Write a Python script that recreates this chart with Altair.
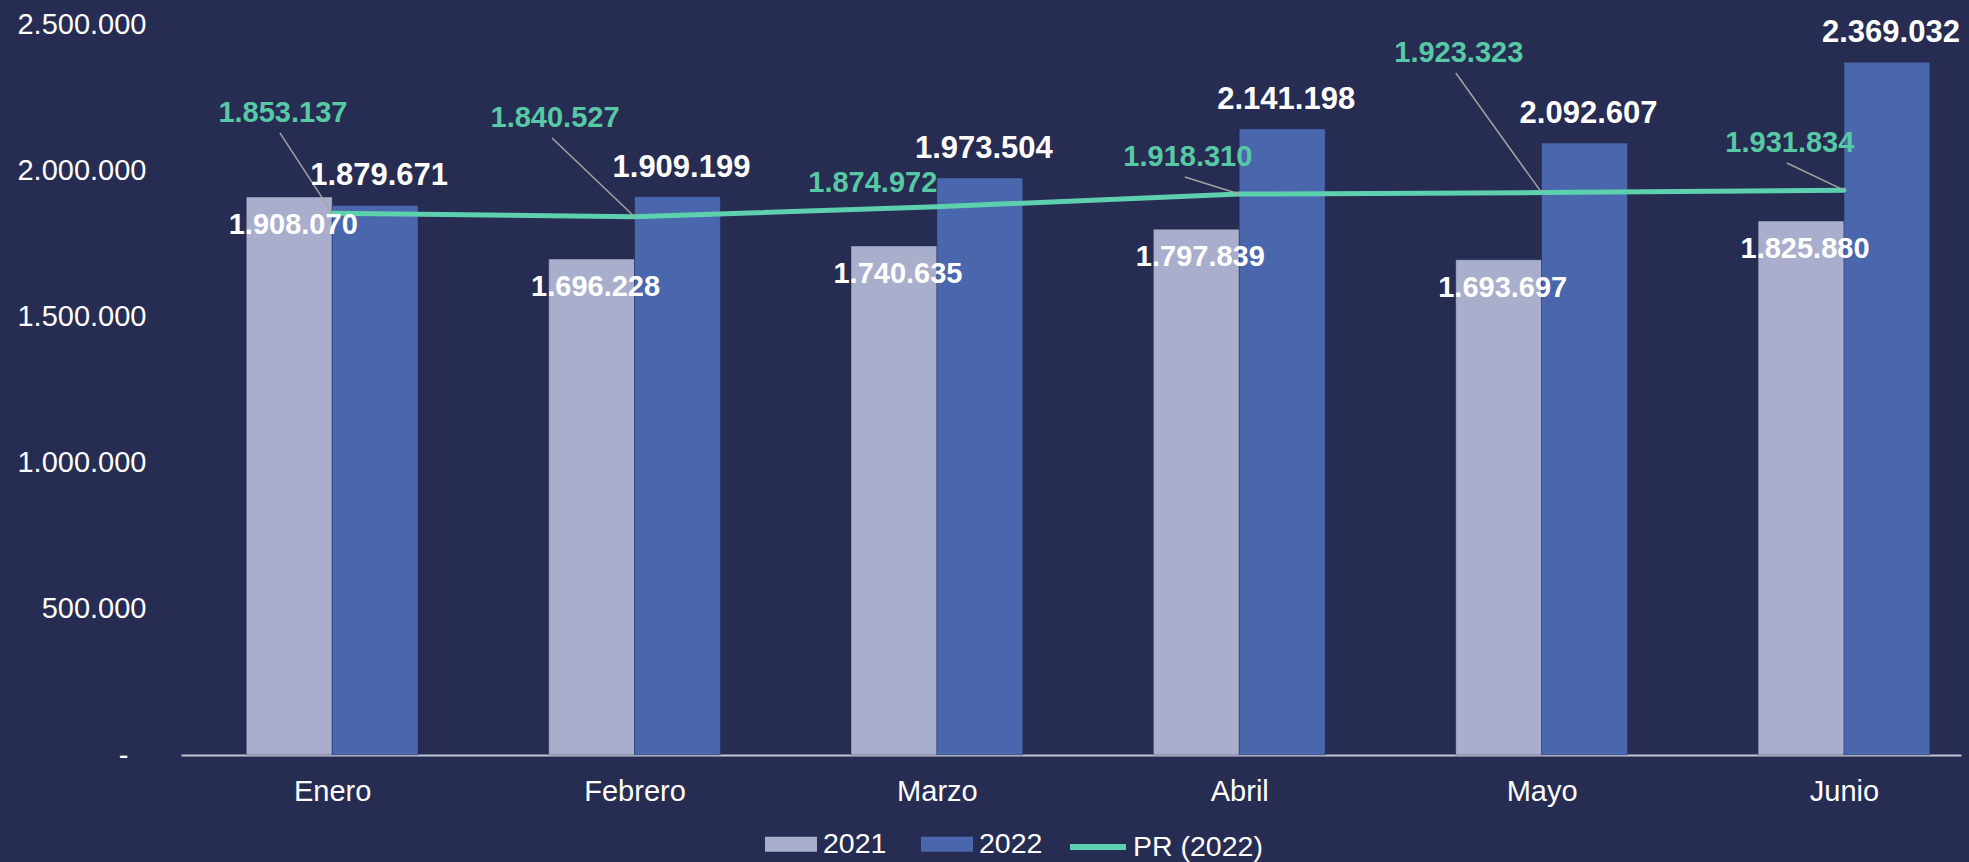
import altair as alt
import pandas as pd

# ---- data ----
months = ["Enero", "Febrero", "Marzo", "Abril", "Mayo", "Junio"]
v2021 = [1908070, 1696228, 1740635, 1797839, 1693697, 1825880]
v2022 = [1879671, 1909199, 1973504, 2141198, 2092607, 2369032]
pr2022 = [1853137, 1840527, 1874972, 1918310, 1923323, 1931834]
# anchor of each PR label (x in month-index units, y in data units)
pr_label_x = [-0.163, 0.737, 1.788, 2.830, 3.726, 4.821]
pr_label_y = [2196000, 2178500, 1956000, 2045000, 2401000, 2093000]
pr_leader = [True, True, False, True, True, True]
y_ticks = [0, 500000, 1000000, 1500000, 2000000, 2500000]
series_years = ["2021", "2022"]
line_name = "PR (2022)"

BG = "#272c52"
C21 = "#a8aecb"
C22 = "#4a67ae"
TEAL = "#5dd0ad"
TEAL_TXT = "#57c9a5"
FONT = "Liberation Sans, Arial, sans-serif"
HALF = 0.284


def fmt(v):
    return f"{v:,}".replace(",", ".")


rows = []
for i, m in enumerate(months):
    rows.append({"month": m, "idx": i, "year": "2021", "value": v2021[i],
                 "x0": i - HALF, "x1": i, "xc": i - HALF / 2, "label": fmt(v2021[i])})
    rows.append({"month": m, "idx": i, "year": "2022", "value": v2022[i],
                 "x0": i, "x1": i + HALF, "xc": i + HALF / 2, "label": fmt(v2022[i])})
bars_df = pd.DataFrame(rows)

pr_df = pd.DataFrame({
    "idx": list(range(len(months))),
    "pr": pr2022,
    "lx": pr_label_x,
    "ly": pr_label_y,
    "leader": pr_leader,
    "label": [fmt(v) for v in pr2022],
    "series": [line_name] * len(months),
})

x_scale = alt.Scale(domain=[-0.5, 5.387], nice=False, zero=False)
y_scale = alt.Scale(domain=[0, 2500000], nice=False)

month_arr = "[" + ",".join(f"'{m}'" for m in months) + "]"
x_axis = alt.Axis(values=list(range(len(months))), labelExpr=f"{month_arr}[datum.value]",
                  grid=False, ticks=False, domain=True, domainColor="#c3c5d3",
                  domainWidth=2, labelColor="white", labelFontSize=29, labelFont=FONT,
                  labelPadding=22, title=None)
y_axis = alt.Axis(values=y_ticks,
                  labelExpr="datum.value == 0 ? '-' : replace(replace(format(datum.value, ','), ',', '.'), ',', '.')",
                  grid=False, ticks=False, domain=False, labelColor="white",
                  labelFontSize=29, labelFont=FONT,
                  labelPadding={"condition": {"test": "datum.value == 0", "value": 53}, "value": 35},
                  title=None)

legend_common = dict(orient="none", direction="horizontal", title=None,
                     labelFont=FONT, labelFontSize=28.5, labelColor="white",
                     padding=0)

bars = alt.Chart(bars_df).mark_bar(strokeWidth=1, strokeOpacity=0.35, stroke="#1c2145").encode(
    x=alt.X("x0:Q", scale=x_scale, axis=x_axis),
    x2="x1:Q",
    y=alt.Y("value:Q", scale=y_scale, axis=y_axis),
    y2=alt.datum(0),
    color=alt.Color("year:N",
                    scale=alt.Scale(domain=series_years, range=[C21, C22]),
                    legend=alt.Legend(legendX=584, legendY=794,
                                      symbolType="M-1,-0.2885H1V0.2885H-1Z",
                                      symbolSize=2704, symbolStrokeWidth=0,
                                      labelOffset=6, columnPadding=34, **legend_common)),
)

line = alt.Chart(pr_df).mark_line(strokeWidth=5, strokeCap="round").encode(
    x=alt.X("idx:Q", scale=x_scale),
    y=alt.Y("pr:Q", scale=y_scale),
    stroke=alt.Stroke("series:N",
                      scale=alt.Scale(domain=[line_name], range=[TEAL]),
                      legend=alt.Legend(legendX=886, legendY=792,
                                        symbolType="stroke", symbolSize=3136,
                                        symbolStrokeWidth=6, labelOffset=4,
                                        **legend_common)),
)

leaders = alt.Chart(pr_df).transform_filter("datum.leader").mark_rule(
    color="#a3a3a3", strokeWidth=1.5, y2Offset=20, x2Offset=-3).encode(
    x=alt.X("idx:Q", scale=x_scale),
    y=alt.Y("pr:Q", scale=y_scale),
    x2="lx:Q",
    y2="ly:Q",
)

t21 = alt.Chart(bars_df).transform_filter("datum.year == '2021'").mark_text(
    font=FONT, fontWeight="bold", fontSize=29, color="white", baseline="middle",
    align="center", dy=28, dx=4).encode(
    x=alt.X("xc:Q", scale=x_scale), y=alt.Y("value:Q", scale=y_scale), text="label:N")

t22 = alt.Chart(bars_df).transform_filter("datum.year == '2022'").mark_text(
    font=FONT, fontWeight="bold", fontSize=31, color="white", baseline="middle",
    align="center", dy=-29, dx=4).encode(
    x=alt.X("xc:Q", scale=x_scale), y=alt.Y("value:Q", scale=y_scale), text="label:N")

tpr = alt.Chart(pr_df).mark_text(
    font=FONT, fontWeight="bold", fontSize=29, color=TEAL_TXT, baseline="middle",
    align="center").encode(
    x=alt.X("lx:Q", scale=x_scale), y=alt.Y("ly:Q", scale=y_scale), text="label:N")

chart = alt.layer(bars, line, leaders, t21, t22, tpr).properties(
    width=1780, height=731,
    padding={"left": 181, "top": 24, "right": 8, "bottom": 107},
    autosize=alt.AutoSizeParams(type="none"),
    background=BG,
).configure_view(stroke=None)

chart.save("out.html", embed_options={
    "renderer": "svg", "actions": False,
    "defaultStyle": "body{margin:0;background:#272c52;overflow:hidden}",
})
